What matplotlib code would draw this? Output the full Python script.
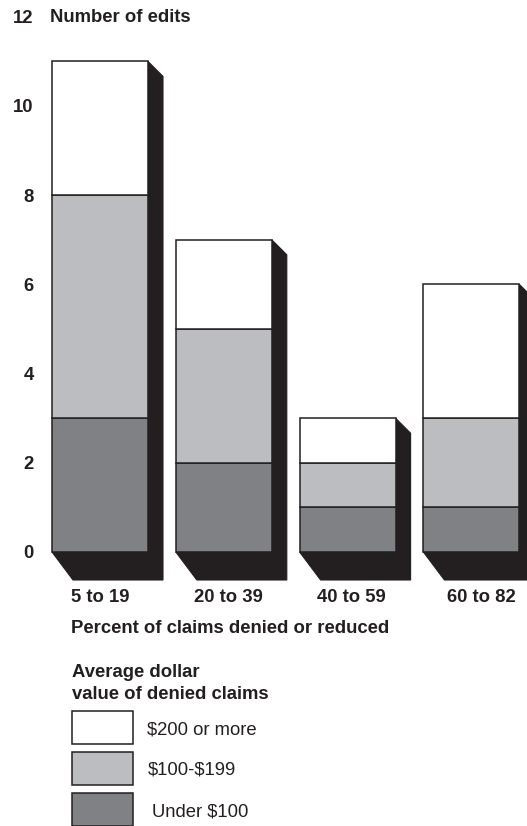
import matplotlib
matplotlib.use("Agg")
import matplotlib.pyplot as plt
from matplotlib.patches import Polygon, Rectangle
import matplotlib.transforms as mtransforms
import numpy as np

plt.rcParams['font.family'] = ['Liberation Sans', 'DejaVu Sans']

categories = ["5 to 19", "20 to 39", "40 to 59", "60 to 82"]
under_100 = [3, 2, 1, 1]
mid_100_199 = [5, 3, 1, 2]
over_200 = [3, 2, 1, 3]
series_labels = ["Under $100", "$100-$199", "$200 or more"]
y_ticks = [0, 2, 4, 6, 8, 10, 12]

colors = ["#808184", "#bcbdc0", "#ffffff"]
ink = "#231f20"
FS = 13.3

W, H = 527, 826
fig = plt.figure(figsize=(W / 100, H / 100), dpi=100)

ax_left_px, ax_right_px = 40, 527
ax_top_px, ax_bot_px = 10, 552
ax = fig.add_axes([ax_left_px / W, (H - ax_bot_px) / H,
                   (ax_right_px - ax_left_px) / W, (ax_bot_px - ax_top_px) / H])

px_per_x = 123.8
x0_left = (ax_left_px - 100) / px_per_x
ax.set_xlim(x0_left, x0_left + (ax_right_px - ax_left_px) / px_per_x)
px_per_y = 44.6
ax.set_ylim(0, (ax_bot_px - ax_top_px) / px_per_y)

x = np.arange(len(categories))
width = 96 / px_per_x

def dx(p):
    return p / px_per_x

def dy(p):
    return p / px_per_y

totals = np.array(under_100) + np.array(mid_100_199) + np.array(over_200)

# shadows
for xi, t in zip(x, totals):
    l = xi - width / 2
    r = xi + width / 2
    verts = [(l, 0), (l + dx(21), -dy(28)), (r + dx(15), -dy(28)),
             (r + dx(15), t - dy(15)), (r, t), (r, 0)]
    ax.add_patch(Polygon(verts, closed=True, facecolor=ink, edgecolor=ink,
                         lw=0.8, clip_on=False, zorder=1))

bottom = np.zeros(len(categories))
for vals, c in zip([under_100, mid_100_199, over_200], colors):
    ax.bar(x, vals, width=width, bottom=bottom, color=c, edgecolor=ink,
           linewidth=1.1, zorder=2, clip_on=False)
    bottom += np.array(vals)

for s in ax.spines.values():
    s.set_visible(False)
ax.patch.set_visible(False)

ax.set_yticks(y_ticks)
ax.set_yticklabels([str(v) for v in y_ticks], fontsize=FS, fontweight='bold', color=ink)
ax.tick_params(axis='y', length=0, pad=4.5)
ax.set_xticks(x)
ax.set_xticklabels(categories, fontsize=FS, fontweight='bold', color=ink)
ax.tick_params(axis='x', length=0, pad=26.5)
label_shift_px = [0, 5, 4, 10]
for lab, s in zip(ax.get_xticklabels(), label_shift_px):
    lab.set_transform(lab.get_transform() +
                      mtransforms.ScaledTranslation(s / 100, 0, fig.dpi_scale_trans))

def fx(p):
    return p / W

def fy(p):
    return 1 - p / H

fig.text(fx(50), fy(22), "Number of edits", fontsize=FS, fontweight='bold',
         color=ink, va='baseline', ha='left')
fig.text(fx(71), fy(633), "Percent of claims denied or reduced", fontsize=FS,
         fontweight='bold', color=ink, va='baseline', ha='left')
fig.text(fx(72), fy(677), "Average dollar", fontsize=FS, fontweight='bold',
         color=ink, va='baseline', ha='left')
fig.text(fx(72), fy(699), "value of denied claims", fontsize=FS, fontweight='bold',
         color=ink, va='baseline', ha='left')

leg_boxes = [(711, 744), (752, 785), (793, 826)]
leg_text_x = [147, 148, 152]
leg_text_base = [734, 775, 816]
for (t, b), lab, c, tx, tb in zip(leg_boxes, series_labels[::-1], colors[::-1],
                                  leg_text_x, leg_text_base):
    fig.patches.append(Rectangle((fx(72), fy(b)), fx(133) - fx(72), fy(t) - fy(b),
                                 transform=fig.transFigure, facecolor=c,
                                 edgecolor=ink, lw=1.1))
    fig.text(fx(tx), fy(tb), lab, fontsize=FS, color=ink,
             va='baseline', ha='left', parse_math=False)

fig.savefig("out.png", dpi=100)
